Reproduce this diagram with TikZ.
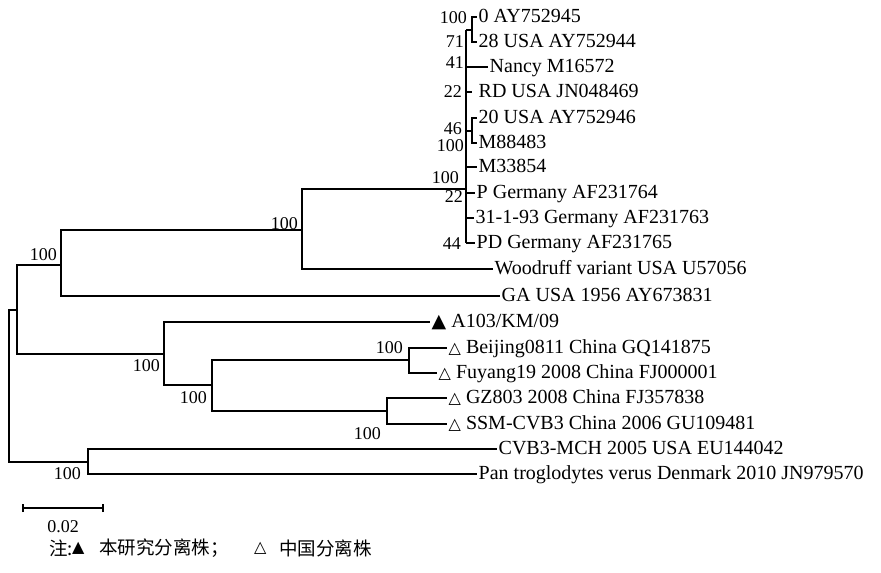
\documentclass[tikz,border=0pt]{standalone}
\usepackage{fontspec}
\setmainfont{Liberation Serif}
\newfontfamily\dejavu{DejaVu Sans}
\newfontfamily\cjk{Noto Sans CJK SC}
\begin{document}
\begin{tikzpicture}[x=1pt,y=-1pt,
  br/.style={line width=1.1pt},
  leaf/.style={anchor=west, inner sep=1.5pt, text height=14pt, text depth=4pt, font=\fontsize{20}{22}\selectfont},
  bs/.style={anchor=east, inner sep=0pt, font=\fontsize{18}{20}\selectfont},
  cj/.style={anchor=west, inner sep=0pt, font=\fontsize{18.5}{20}\selectfont\cjk}]
\useasboundingbox (0,0) rectangle (881,573);
% internal nodes
\coordinate (root) at (9,385);
\coordinate (na) at (17,310);
\coordinate (nb) at (61,265);
\coordinate (nd) at (302,230);
\coordinate (nT) at (466,189);
\coordinate (nc) at (164,354);
\coordinate (ne) at (212,385);
\coordinate (nf) at (409,360);
\coordinate (ng) at (387,411);
\coordinate (nh) at (88,462);
\coordinate (sTop) at (466,30);
\coordinate (sBot) at (466,243);
\coordinate (n01) at (472,30);
\coordinate (n20) at (472,131);
% leaves
\coordinate (l0) at (477,17);
\coordinate (l28) at (477,42);
\coordinate (lNancy) at (488,67);
\coordinate (lRD) at (472,92);
\coordinate (l20) at (477,118);
\coordinate (lM88) at (477,143);
\coordinate (lM33) at (477,167);
\coordinate (lP) at (475,193);
\coordinate (l31) at (474,218);
\coordinate (lPD) at (475,243);
\coordinate (lWood) at (493,269);
\coordinate (lGA) at (500,296);
\coordinate (lA103) at (430,322);
\coordinate (lBei) at (447,348);
\coordinate (lFuy) at (437,373);
\coordinate (lGZ) at (447,398);
\coordinate (lSSM) at (447,424);
\coordinate (lCVB) at (497,449);
\coordinate (lPan) at (477,474);
% branches
\draw[br] (root) |- (na);
\draw[br] (root) |- (nh);
\draw[br] (na) |- (nb);
\draw[br] (na) |- (nc);
\draw[br] (nb) |- (nd);
\draw[br] (nb) |- (lGA);
\draw[br] (nd) |- (nT);
\draw[br] (nd) |- (lWood);
\draw[br] (nc) |- (lA103);
\draw[br] (nc) |- (ne);
\draw[br] (ne) |- (nf);
\draw[br] (ne) |- (ng);
\draw[br] (nf) |- (lBei);
\draw[br] (nf) |- (lFuy);
\draw[br] (ng) |- (lGZ);
\draw[br] (ng) |- (lSSM);
\draw[br] (nh) |- (lCVB);
\draw[br] (nh) |- (lPan);
% top cluster
\draw[br] (sTop) -- (sBot);
\draw[br] (sTop) -- (n01);
\draw[br] (n01) |- (l0);
\draw[br] (n01) |- (l28);
\draw[br] (sTop |- lNancy) -- (lNancy);
\draw[br] (sTop |- lRD) -- (lRD);
\draw[br] (sTop |- n20) -- (n20);
\draw[br] (n20) |- (l20);
\draw[br] (n20) |- (lM88);
\draw[br] (sTop |- lM33) -- (lM33);
\draw[br] (sTop |- lP) -- (lP);
\draw[br] (sTop |- l31) -- (l31);
\draw[br] (sTop |- lPD) -- (lPD);
% leaf labels
\node[leaf] (t0) at (l0) {0 AY752945};
\node[leaf] (t28) at (l28) {28 USA AY752944};
\node[leaf] (tNancy) at (lNancy) {Nancy M16572};
\node[leaf] (tRD) at ([xshift=5pt]lRD) {RD USA JN048469};
\node[leaf] (t20) at (l20) {20 USA AY752946};
\node[leaf] (tM88) at (lM88) {M88483};
\node[leaf] (tM33) at (lM33) {M33854};
\node[leaf] (tP) at (lP) {P Germany AF231764};
\node[leaf] (t31) at (l31) {31-1-93 Germany AF231763};
\node[leaf] (tPD) at (lPD) {PD Germany AF231765};
\node[leaf] (tWood) at (lWood) {Woodruff variant USA U57056};
\node[leaf] (tGA) at (lGA) {GA USA 1956 AY673831};
\node[leaf] (tA103) at (lA103) {{\dejavu\fontsize{19}{20}\selectfont ▲} A103/KM/09};
\node[leaf] (tBei) at (lBei) {{\dejavu\fontsize{16}{20}\selectfont △} Beijing0811 China GQ141875};
\node[leaf] (tFuy) at (lFuy) {{\dejavu\fontsize{16}{20}\selectfont △} Fuyang19 2008 China FJ000001};
\node[leaf] (tGZ) at (lGZ) {{\dejavu\fontsize{16}{20}\selectfont △} GZ803 2008 China FJ357838};
\node[leaf] (tSSM) at (lSSM) {{\dejavu\fontsize{16}{20}\selectfont △} SSM-CVB3 China 2006 GU109481};
\node[leaf] (tCVB) at (lCVB) {CVB3-MCH 2005 USA EU144042};
\node[leaf] (tPan) at (lPan) {Pan troglodytes verus Denmark 2010 JN979570};
% bootstrap values
\node[bs] (b1) at (467,18) {100};
\node[bs] (b2) at (464,42) {71};
\node[bs] (b3) at (464,63) {41};
\node[bs] (b4) at (462,92) {22};
\node[bs] (b5) at (462,129) {46};
\node[bs] (b6) at (464,146) {100};
\node[bs] (b7) at (459,178) {100};
\node[bs] (b8) at (463,197) {22};
\node[bs] (b9) at (461,244) {44};
\node[bs] (b10) at (298,224) {100};
\node[bs] (b11) at (57,255) {100};
\node[bs] (b12) at (160,366) {100};
\node[bs] (b13) at (207,398) {100};
\node[bs] (b14) at (403,348) {100};
\node[bs] (b15) at (381,434) {100};
\node[bs] (b16) at (81,474) {100};
% scale bar
\coordinate (sb1) at (23,508);
\coordinate (sb2) at (103,508);
\draw[line width=1.1pt] (sb1) -- (sb2);
\draw[line width=1.1pt] ([yshift=-4pt]sb1) -- ([yshift=4pt]sb1);
\draw[line width=1.1pt] ([yshift=-4pt]sb2) -- ([yshift=4pt]sb2);
\node[font=\fontsize{18}{20}\selectfont, inner sep=0pt] (sbl) at (63,527) {0.02};
% legend
\node[cj] (g1) at (49,548) {注:};
\node[anchor=west, inner sep=0pt, font=\fontsize{16}{20}\selectfont\dejavu] (g2) at (72,548) {▲};
\node[cj] (g3) at (99,548) {本研究分离株；};
\node[anchor=west, inner sep=0pt, font=\fontsize{16}{20}\selectfont\dejavu] (g4) at (254,548) {△};
\node[cj] (g5) at (279,548) {中国分离株};
\end{tikzpicture}
\end{document}
